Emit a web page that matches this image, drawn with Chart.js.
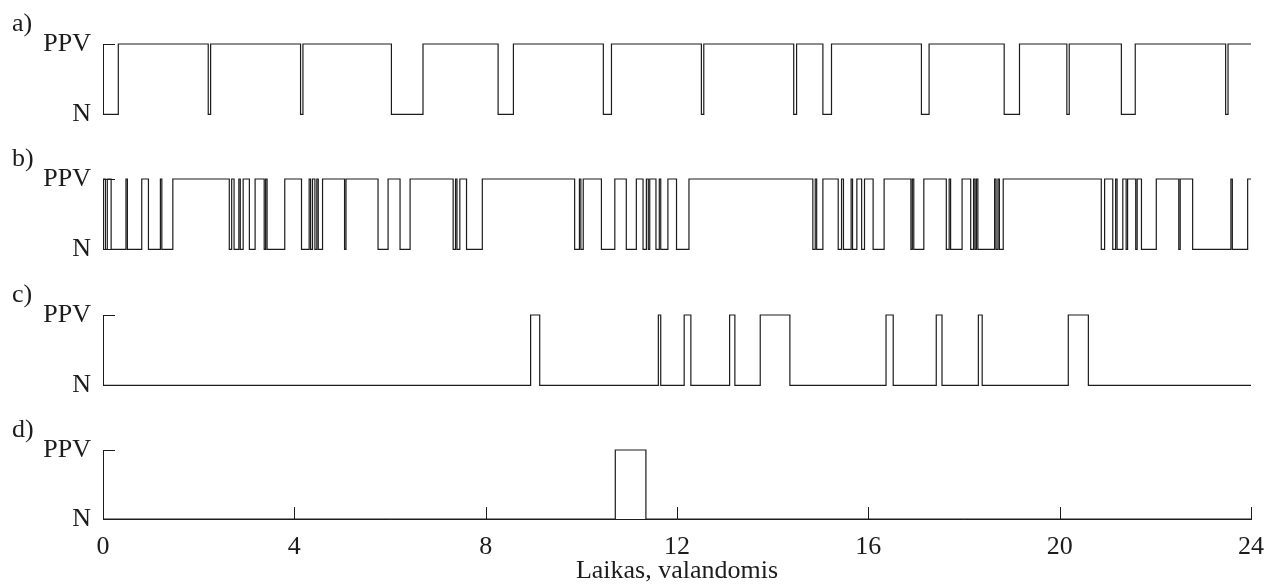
<!DOCTYPE html>
<html>
<head>
<meta charset="utf-8">
<title>PPV būsenos per parą</title>
<script src="https://cdn.jsdelivr.net/npm/chart.js@4.4.1/dist/chart.umd.min.js"></script>
<style>
  html, body { margin: 0; padding: 0; background: #fff; }
  #wrap { position: relative; width: 1278px; height: 587px; overflow: hidden; }
  #wrap canvas { position: absolute; left: 0; }
</style>
</head>
<body>
<div id="wrap">
  <canvas id="chartA" width="1278" height="142" style="top:0px"></canvas>
  <canvas id="chartB" width="1278" height="142" style="top:135px"></canvas>
  <canvas id="chartC" width="1278" height="142" style="top:271px"></canvas>
  <canvas id="chartD" width="1278" height="181" style="top:406px"></canvas>
</div>
<script>
// state names for y = 0 / 1
const stateLabels = ["N", "PPV"];
const hourTicks = [0, 4, 8, 12, 16, 20, 24];
const xTitle = "Laikas, valandomis";

// PPV intervals in hours: switch-on and switch-off times
const onA  = [0.32, 2.25, 4.18, 6.69, 8.58, 10.63, 12.56, 14.50, 15.23, 17.27, 19.16, 20.20, 21.58, 23.52];
const offA = [2.20, 4.13, 6.03, 8.26, 10.46, 12.51, 14.44, 15.05, 17.11, 18.84, 20.15, 21.29, 23.47, 24];

const onB  = [0, 0.09, 0.48, 0.81, 1.20, 1.46, 2.69, 2.84, 2.93, 3.18, 3.40, 3.80, 4.31, 4.38, 4.47,
              4.59, 5.08, 5.96, 6.42, 7.37, 7.46, 7.93, 9.96, 10.04, 10.70, 11.15, 11.36, 11.43, 11.63,
              11.81, 12.25, 14.89, 15.05, 15.44, 15.64, 15.76, 15.92, 16.33, 16.92, 17.16, 17.69, 17.96,
              18.20, 18.26, 18.64, 18.71, 18.82, 20.94, 21.17, 21.32, 21.42, 21.62, 22.02, 22.52, 23.58, 23.93];
const offB = [0.05, 0.17, 0.51, 0.95, 1.23, 2.64, 2.74, 2.87, 3.06, 3.37, 3.43, 4.15, 4.34, 4.43, 4.50,
              5.05, 5.75, 6.21, 7.32, 7.40, 7.60, 9.86, 9.99, 10.42, 10.94, 11.29, 11.40, 11.56, 11.66,
              11.99, 14.84, 14.92, 15.37, 15.48, 15.67, 15.86, 16.10, 16.89, 16.95, 17.63, 17.72, 18.14,
              18.23, 18.29, 18.67, 18.74, 20.87, 21.11, 21.20, 21.39, 21.59, 21.71, 22.49, 22.78, 23.61, 24];

const onC  = [8.94, 11.61, 12.15, 13.10, 13.74, 16.37, 17.42, 18.30, 20.18];
const offC = [9.13, 11.66, 12.29, 13.21, 14.36, 16.52, 17.54, 18.38, 20.60];

const onD  = [10.71];
const offD = [11.35];

const X_MIN = 0, X_MAX = 24;
const INK = "#1c1c1c";
const FONT = { family: "'Liberation Serif', 'Times New Roman', serif", size: 26 };
const TICK_LEN = 12;

Chart.defaults.font.family = FONT.family;
Chart.defaults.font.size = FONT.size;
Chart.defaults.color = INK;

// turn on/off times into a square wave (two points at every switch)
function stepPoints(ons, offs) {
  const pts = [];
  if (ons[0] > X_MIN) pts.push({ x: X_MIN, y: 0 });
  ons.forEach((on, i) => {
    if (on > X_MIN) pts.push({ x: on, y: 0 });
    pts.push({ x: on, y: 1 });
    const off = offs[i];
    pts.push({ x: off, y: 1 });
    if (off < X_MAX) pts.push({ x: off, y: 0 });
  });
  if (offs[offs.length - 1] < X_MAX) pts.push({ x: X_MAX, y: 0 });
  return pts;
}

// ticks pointing into the plot + the panel letter
const innerTicks = {
  id: "innerTicks",
  afterDraw(chart, args, opts) {
    const { ctx, chartArea, scales } = chart;
    ctx.save();
    ctx.strokeStyle = INK;
    ctx.lineWidth = 1;
    ctx.beginPath();
    scales.y.ticks.forEach(t => {
      const y = Math.round(scales.y.getPixelForValue(t.value)) + 0.5;
      ctx.moveTo(chartArea.left, y);
      ctx.lineTo(chartArea.left + TICK_LEN, y);
    });
    if (opts.timeAxis) {
      scales.x.ticks.forEach(t => {
        const x = Math.round(scales.x.getPixelForValue(t.value)) + 0.5;
        ctx.moveTo(x, chartArea.bottom);
        ctx.lineTo(x, chartArea.bottom - TICK_LEN);
      });
    }
    ctx.stroke();

    ctx.fillStyle = INK;
    ctx.font = FONT.size + "px " + FONT.family;
    ctx.textAlign = "left";
    ctx.textBaseline = "alphabetic";
    ctx.fillText(opts.label, 12, chartArea.top - 13);
    ctx.restore();
  }
};

function makePanel(canvasId, label, ons, offs, showTime) {
  new Chart(document.getElementById(canvasId), {
    type: "line",
    data: {
      datasets: [{
        data: stepPoints(ons, offs),
        borderColor: INK,
        borderWidth: 1.2,
        pointRadius: 0,
        fill: false,
        tension: 0,
        clip: 4
      }]
    },
    options: {
      responsive: false,
      animation: false,
      devicePixelRatio: 1,
      events: [],
      layout: { padding: { left: 0, right: 27, top: 44, bottom: 0 } },
      plugins: {
        legend: { display: false },
        tooltip: { enabled: false },
        innerTicks: { label: label, timeAxis: showTime }
      },
      scales: {
        x: {
          type: "linear",
          min: X_MIN,
          max: X_MAX,
          afterBuildTicks: s => { s.ticks = hourTicks.map(v => ({ value: v })); },
          afterFit: s => { s.height = showTime ? 68 : 15; },
          grid: { display: false, drawTicks: false },
          border: { display: showTime, color: INK, width: 1 },
          ticks: { display: showTime, padding: 13, maxRotation: 0, autoSkip: false, color: INK },
          title: {
            display: showTime,
            text: xTitle,
            color: INK,
            padding: { top: 0, bottom: 0 },
            font: { size: FONT.size }
          }
        },
        y: {
          type: "linear",
          min: 0,
          max: 1,
          afterBuildTicks: s => { s.ticks = [0, 1].map(v => ({ value: v })); },
          afterFit: s => { s.width = 103; },
          grid: { display: false, drawTicks: false },
          border: { display: true, color: INK, width: 1 },
          ticks: {
            padding: 12,
            color: INK,
            callback: v => stateLabels[v]
          }
        }
      }
    },
    plugins: [innerTicks]
  });
}

makePanel("chartA", "a)", onA, offA, false);
makePanel("chartB", "b)", onB, offB, false);
makePanel("chartC", "c)", onC, offC, false);
makePanel("chartD", "d)", onD, offD, true);
</script>
</body>
</html>
